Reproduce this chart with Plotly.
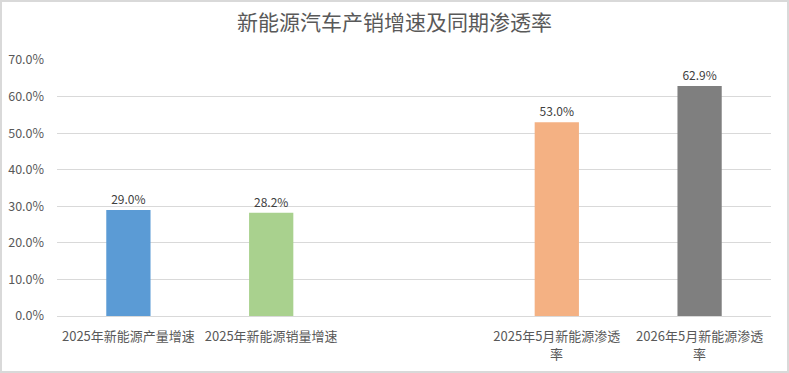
import plotly.graph_objects as go

categories = ["2025年新能源产量增速", "2025年新能源销量增速", "",
              "2025年5月新能源渗透", "2026年5月新能源渗透"]
categories_line2 = ["", "", "", "率", "率"]
values = [29.0, 28.2, None, 53.0, 62.9]
colors = ["#5B9BD5", "#A9D18E", "#FFFFFF", "#F4B183", "#7F7F7F"]
y_ticks = [0, 10, 20, 30, 40, 50, 60, 70]

W, H = 789, 373
L, R, T, B = 57, 18, 60, 57
pw, ph = W - L - R, H - T - B

xs = list(range(len(categories)))
fig = go.Figure()
fig.add_trace(go.Bar(
    x=xs, y=values, marker=dict(color=colors, line=dict(width=0)),
    width=0.31,
    text=[None if v is None else f"{v:.1f}%" for v in values],
    textposition="outside", cliponaxis=False,
    textfont=dict(size=12, color="#404040"),
))
annotations = [
    dict(x=x, y=0, xref="x", yref="y", text=t, showarrow=False,
         yanchor="middle", yshift=-37, font=dict(size=13, color="#595959"))
    for x, t in zip(xs, categories_line2) if t
]
fig.update_layout(
    width=W, height=H,
    margin=dict(l=L, r=R, t=T, b=B),
    paper_bgcolor="white", plot_bgcolor="white",
    font=dict(family="Noto Sans CJK SC, sans-serif", color="#595959", size=12),
    title=dict(text="新能源汽车产销增速及同期渗透率", x=0.5, xanchor="center",
               y=1 - 23 / H, yanchor="middle",
               font=dict(size=21, color="#595959")),
    showlegend=False,
    annotations=annotations,
    xaxis=dict(tickvals=xs, ticktext=categories, range=[-0.5, len(categories) - 0.5],
               showgrid=False, showline=True, linecolor="#D9D9D9", linewidth=1,
               ticks="", ticklabelstandoff=8, automargin=False,
               tickfont=dict(size=13, color="#595959")),
    yaxis=dict(range=[0, 70], tickvals=y_ticks,
               ticktext=[f"{v:.1f}%" for v in y_ticks],
               showgrid=True, gridcolor="#D9D9D9", gridwidth=1,
               zeroline=False, showline=False, ticks="", ticklabelstandoff=12,
               automargin=False,
               tickfont=dict(size=12.5, color="#595959")),
    shapes=[dict(type="rect", xref="paper", yref="paper",
                 x0=(1 - L) / pw, x1=(W - 1 - L) / pw,
                 y0=(H - B - (H - 1)) / ph, y1=(H - B - 1) / ph,
                 line=dict(color="#D9D9D9", width=2), fillcolor="rgba(0,0,0,0)")],
)
fig.write_html("out.html")
